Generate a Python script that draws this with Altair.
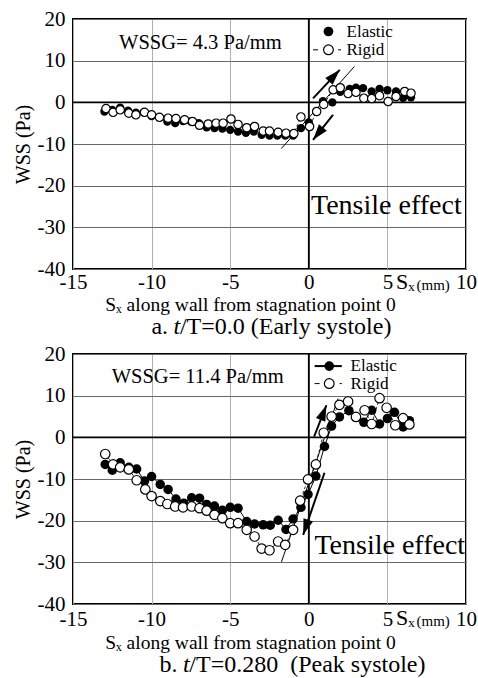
import math
import altair as alt
import pandas as pd

# ---------------- data ----------------
X_TICKS = [-15, -10, -5, 0, 5, 10]
Y_TICKS = [-40, -30, -20, -10, 0, 10, 20]
X_DOMAIN = [-15, 10]
Y_DOMAIN = [-40, 20]

# panel a: t/T = 0.0
a_elastic_x = [-13.0, -12.5, -12.0, -11.5, -11.0, -10.5, -10.0, -9.5, -9.0, -8.5, -8.0, -7.5, -7.0,
               -6.5, -6.0, -5.5, -5.0, -4.5, -4.0, -3.5, -3.0, -2.5, -2.0, -1.5, -1.0, -0.5, 0.0,
               0.9, 1.5, 2.0, 2.6, 3.0, 3.45, 4.0, 4.5, 5.0, 5.55, 6.0, 6.5]
a_elastic_y = [-2.2, -1.8, -1.3, -2.0, -2.5, -2.4, -3.3, -3.6, -4.6, -5.0, -4.5, -4.6, -5.0,
               -6.0, -6.2, -6.3, -6.6, -7.0, -7.3, -7.0, -7.8, -8.0, -8.0, -8.0, -8.0, -6.2, -4.8,
               0.3, 0.0, 2.5, 3.2, 3.5, 3.4, 2.6, 3.2, 2.9, 2.6, 1.1, 1.2]
a_rigid_x = [-12.9, -12.45, -12.0, -11.45, -11.0, -10.45, -10.0, -9.5, -8.95, -8.45, -7.9, -7.4,
             -6.95, -6.4, -5.9, -5.45, -4.95, -4.5, -3.95, -3.45, -2.9, -2.5, -1.95, -1.45, -0.95,
             -0.5, 0.05, 0.5, 0.95, 1.55, 2.0, 2.5, 3.0, 3.5, 4.0, 4.5, 5.05, 5.55, 6.1, 6.5]
a_rigid_y = [-1.5, -2.4, -1.8, -2.6, -3.0, -2.4, -3.0, -3.6, -3.8, -3.9, -4.2, -4.6,
             -5.5, -5.2, -5.0, -5.0, -4.0, -5.3, -6.1, -5.8, -6.9, -6.9, -7.2, -7.4, -7.5,
             -3.5, -5.8, -2.2, -0.5, 3.0, 3.5, 2.1, 2.4, 1.0, 0.9, 1.6, 0.2, 1.4, 2.6, 2.2]

# panel b: t/T = 0.280
b_elastic_x = [-12.95, -12.5, -12.0, -11.45, -10.95, -10.45, -10.0, -9.45, -8.95, -8.45, -7.95,
               -7.45, -6.95, -6.5, -6.0, -5.5, -5.0, -4.5, -3.95, -3.45, -2.9, -2.45, -1.95,
               -1.45, -1.0, -0.5, -0.05, 0.45, 1.0, 1.45, 1.95, 2.55, 3.0, 3.5, 4.0, 4.5, 5.0,
               5.45, 6.0, 6.4]
b_elastic_y = [-6.5, -7.9, -6.1, -7.2, -7.6, -10.5, -9.4, -11.3, -12.5, -14.8, -15.8,
               -14.5, -14.6, -16.1, -16.5, -17.5, -16.8, -17.0, -20.2, -20.8, -21.0, -21.1, -19.9,
               -22.1, -19.6, -16.8, -13.7, -9.3, -2.2, 2.7, 4.9, 6.4, 4.8, 3.6, 6.5, 3.2, 4.5,
               6.0, 2.5, 4.0]
b_rigid_x = [-12.95, -12.45, -12.0, -11.45, -10.95, -10.4, -10.0, -9.45, -9.0, -8.5, -8.0, -7.45,
             -6.95, -6.5, -6.0, -5.5, -5.0, -4.5, -3.95, -3.45, -3.0, -2.5, -1.95, -1.5, -1.0,
             -0.55, -0.05, 0.45, 0.95, 1.45, 1.95, 2.5, 3.0, 3.55, 4.0, 4.5, 4.95, 5.5, 6.0, 6.4]
b_rigid_y = [-4.0, -6.5, -7.2, -7.7, -10.3, -12.5, -14.1, -15.3, -16.0, -16.6, -16.8, -16.6,
             -17.0, -17.6, -18.6, -19.4, -20.6, -20.6, -22.2, -23.8, -26.7, -27.1, -25.0, -25.8,
             -22.2, -15.2, -10.1, -6.5, 1.1, 5.0, 7.8, 8.6, 4.9, 6.5, 3.2, 9.4, 7.1, 2.9, 4.6, 3.1]

# annotation lines (tangent) and arrows
a_tangent_x = [-1.75, 2.9]
a_tangent_y = [-11.1, 8.6]
a_arrow_x1 = [0.27, 1.54]
a_arrow_y1 = [0.96, -3.0]
a_arrow_x2 = [1.97, 0.27]
a_arrow_y2 = [7.8, -9.0]

b_tangent_x = [-1.74, 1.86]
b_tangent_y = [-29.9, 9.3]
b_arrow_x1 = [0.34, 1.0]
b_arrow_y1 = [0.2, -8.5]
b_arrow_x2 = [1.12, -0.36]
b_arrow_y2 = [7.7, -23.4]

series_names = ["Elastic", "Rigid"]
a_wssg = "WSSG= 4.3 Pa/mm"
b_wssg = "WSSG= 11.4 Pa/mm"
a_sub_pre, a_sub_rest = "a.", "/T=0.0 (Early systole)"
b_sub_pre, b_sub_rest = "b.", "/T=0.280\u00a0 (Peak systole)"

W, H = 393, 250
FONT = "'Liberation Serif', 'Times New Roman', serif"
AX_TITLE = "Sₓ along wall from stagnation point 0"


def make_panel(ex, ey, rx, ry, tx, ty, ax1, ay1, ax2, ay2, wssg, wssg_pos,
               tens_pos, leg, sub_pre, sub_rest, sub_pos, elastic_line, pt_size,
               tick_pad, title_y, sub_dy, sx_dy):
    xs = alt.Scale(domain=X_DOMAIN, nice=False, zero=False)
    ys = alt.Scale(domain=Y_DOMAIN, nice=False, zero=False)
    x_axis = alt.Axis(values=X_TICKS, labelExpr="'' + datum.value", labelFlush=False,
                      title=AX_TITLE, titleX=177, titleY=title_y, titleBaseline="alphabetic",
                      titleAlign="center", titleFont=FONT, titleFontSize=19.5,
                      titleFontWeight="normal", labelFont=FONT, labelFontSize=21,
                      labelBaseline="alphabetic", labelPadding=tick_pad, ticks=False,
                      domain=False, grid=True, gridColor="#b0b0b0", gridWidth=1,
                      labelColor="black", titleColor="black")
    y_axis = alt.Axis(values=Y_TICKS, labelExpr="'' + datum.value", title="WSS (Pa)",
                      titleFont=FONT, titleFontSize=20, titleFontWeight="normal",
                      titlePadding=4, labelFont=FONT, labelFontSize=21, labelPadding=8,
                      ticks=False, domain=False, grid=True, gridColor="#6a6a6a", gridWidth=1,
                      labelColor="black", titleColor="black")

    def X(f):
        return alt.X(f, type="quantitative", scale=xs, axis=x_axis)

    def Y(f):
        return alt.Y(f, type="quantitative", scale=ys, axis=y_axis)

    el = pd.DataFrame({"x": ex, "y": ey})
    rg = pd.DataFrame({"x": rx, "y": ry})
    layers = []

    zero_v = alt.Chart(pd.DataFrame({"x": [0]})).mark_rule(color="black", strokeWidth=1.8).encode(x=X("x"))
    zero_h = alt.Chart(pd.DataFrame({"y": [0]})).mark_rule(color="black", strokeWidth=1.8).encode(y=Y("y"))
    layers += [zero_v, zero_h]

    tang = alt.Chart(pd.DataFrame({"x": tx, "y": ty})).mark_line(color="black", strokeWidth=1).encode(
        x=X("x"), y=Y("y"))
    layers.append(tang)

    layers.append(alt.Chart(rg).mark_line(color="black", strokeWidth=0.8, strokeDash=[3, 2]).encode(
        x=X("x"), y=Y("y")))
    if elastic_line:
        layers.append(alt.Chart(el).mark_line(color="black", strokeWidth=1).encode(x=X("x"), y=Y("y")))

    layers.append(alt.Chart(el).mark_circle(size=pt_size, color="black", opacity=1).encode(
        x=X("x"), y=Y("y")))
    layers.append(alt.Chart(rg).mark_point(shape="circle", size=pt_size, filled=True, fill="white",
                                           stroke="black", strokeWidth=1.2, opacity=1).encode(
        x=X("x"), y=Y("y")))

    # arrows
    angles = []
    for x1, y1, x2, y2 in zip(ax1, ay1, ax2, ay2):
        dx = (x2 - x1) * W / (X_DOMAIN[1] - X_DOMAIN[0])
        dyup = (y2 - y1) * H / (Y_DOMAIN[1] - Y_DOMAIN[0])
        angles.append(math.degrees(math.atan2(dx, dyup)) % 360)
    arr = pd.DataFrame({"x1": ax1, "y1": ay1, "x2": ax2, "y2": ay2, "angle": angles})
    layers.append(alt.Chart(arr).mark_rule(color="black", strokeWidth=2).encode(
        x=X("x1"), y=Y("y1"), x2="x2", y2="y2"))
    layers.append(alt.Chart(arr).mark_point(shape="M0,0L0.32,1L-0.32,1Z", filled=True, color="black",
                                            size=1000, opacity=1).encode(
        x=X("x2"), y=Y("y2"), angle=alt.Angle("angle:Q", scale=None)))

    # texts
    layers.append(alt.Chart(pd.DataFrame({"x": [wssg_pos[0]], "y": [wssg_pos[1]], "t": [wssg]})).mark_text(
        font=FONT, fontSize=20.5, align="center", baseline="middle", color="black").encode(
        x=X("x"), y=Y("y"), text="t:N"))
    layers.append(alt.Chart(pd.DataFrame({"x": [tens_pos[0]], "y": [tens_pos[1]], "t": ["Tensile effect"]})).mark_text(
        font=FONT, fontSize=28, align="left", baseline="alphabetic", color="black").encode(
        x=X("x"), y=Y("y"), text="t:N"))

    # legend
    (lx0, lx1, lmark, ltext, ly_el, ly_rg, el_has_line) = leg
    if el_has_line:
        layers.append(alt.Chart(pd.DataFrame({"x": [lx0], "x2": [lx1], "y": [ly_el]})).mark_rule(
            color="black", strokeWidth=2).encode(x=X("x"), x2="x2", y=Y("y")))
    layers.append(alt.Chart(pd.DataFrame({"x": [lx0], "x2": [lx1], "y": [ly_rg]})).mark_rule(
        color="black", strokeWidth=1, strokeDash=[5, 20]).encode(x=X("x"), x2="x2", y=Y("y")))
    layers.append(alt.Chart(pd.DataFrame({"x": [lmark], "y": [ly_el]})).mark_circle(
        size=95, color="black", opacity=1).encode(x=X("x"), y=Y("y")))
    layers.append(alt.Chart(pd.DataFrame({"x": [lmark], "y": [ly_rg]})).mark_point(
        shape="circle", size=95, filled=True, fill="white", stroke="black", strokeWidth=1.2,
        opacity=1).encode(x=X("x"), y=Y("y")))
    layers.append(alt.Chart(pd.DataFrame({"x": [ltext, ltext], "y": [ly_el, ly_rg], "t": series_names})).mark_text(
        font=FONT, fontSize=17, align="left", baseline="middle", color="black").encode(
        x=X("x"), y=Y("y"), text="t:N"))

    # S_x(mm) label beside tick labels
    layers.append(alt.Chart(pd.DataFrame({"x": [5.55], "y": [Y_DOMAIN[0]], "t": ["Sₓ"]})).mark_text(
        font=FONT, fontSize=22, align="left", baseline="alphabetic", dy=sx_dy, color="black").encode(
        x=X("x"), y=Y("y"), text="t:N"))
    layers.append(alt.Chart(pd.DataFrame({"x": [6.85], "y": [Y_DOMAIN[0]], "t": ["(mm)"]})).mark_text(
        font=FONT, fontSize=15, align="left", baseline="alphabetic", dy=sx_dy + 1, color="black").encode(
        x=X("x"), y=Y("y"), text="t:N"))

    # subtitle with italic t
    sx_t = sub_pos
    layers.append(alt.Chart(pd.DataFrame({"x": [sx_t - 0.35], "y": [Y_DOMAIN[0]], "t": [sub_pre]})).mark_text(
        font=FONT, fontSize=24, align="right", baseline="alphabetic", dy=sub_dy, color="black").encode(
        x=X("x"), y=Y("y"), text="t:N"))
    layers.append(alt.Chart(pd.DataFrame({"x": [sx_t], "y": [Y_DOMAIN[0]], "t": ["t"]})).mark_text(
        font=FONT, fontSize=24, fontStyle="italic", align="left", baseline="alphabetic", dy=sub_dy,
        color="black").encode(x=X("x"), y=Y("y"), text="t:N"))
    layers.append(alt.Chart(pd.DataFrame({"x": [sx_t + 0.4], "y": [Y_DOMAIN[0]], "t": [sub_rest]})).mark_text(
        font=FONT, fontSize=24, align="left", baseline="alphabetic", dy=sub_dy, color="black").encode(
        x=X("x"), y=Y("y"), text="t:N"))

    return alt.layer(*layers).properties(width=W, height=H)


top = make_panel(a_elastic_x, a_elastic_y, a_rigid_x, a_rigid_y, a_tangent_x, a_tangent_y,
                 a_arrow_x1, a_arrow_y1, a_arrow_x2, a_arrow_y2, a_wssg, (-6.9, 14.2),
                 (0.14, -26.7), (0.27, 2.05, 1.25, 2.4, 17.0, 12.6, False),
                 a_sub_pre, a_sub_rest, -8.6, False, 70, 19, 41, 65, 20)
bottom = make_panel(b_elastic_x, b_elastic_y, b_rigid_x, b_rigid_y, b_tangent_x, b_tangent_y,
                    b_arrow_x1, b_arrow_y1, b_arrow_x2, b_arrow_y2, b_wssg, (-7.07, 14.5),
                    (0.36, -27.9), (0.37, 2.1, 1.3, 2.66, 17.1, 12.9, True),
                    b_sub_pre, b_sub_rest, -8.0, True, 90, 21, 44, 68, 21)

chart = alt.vconcat(top, bottom, spacing=85, bounds="flush").properties(
    padding={"left": 12, "top": 7, "right": 0, "bottom": 3},
    background="white",
).configure_view(stroke="black", strokeWidth=2)

chart.save("out.html", embed_options={"renderer": "svg", "actions": False})
